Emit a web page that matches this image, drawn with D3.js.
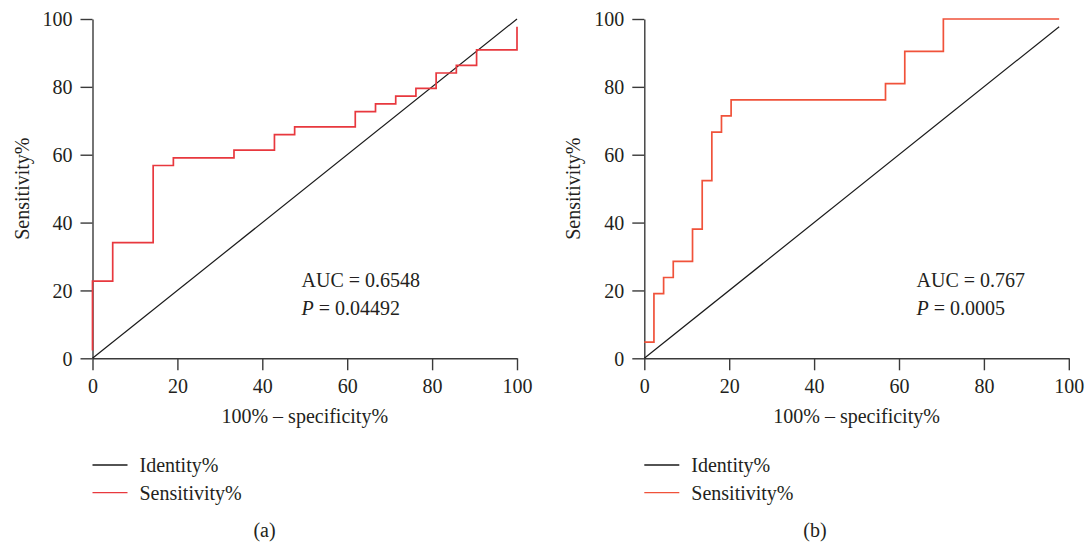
<!DOCTYPE html>
<html>
<head>
<meta charset="utf-8">
<script src="https://cdn.jsdelivr.net/npm/d3@7"></script>
<style>
    body { margin: 0; background: #fff; }
    svg { display: block; font-family: "Liberation Serif", "DejaVu Serif", serif; }
</style>
</head>
<body>
<script>
// ROC curves, two panels
const ticks = [0, 20, 40, 60, 80, 100];

// panel (a)
const aFpr = [0, 0, 4.76, 14.29, 19.05, 33.33, 42.86, 47.62, 61.9, 66.67, 71.43, 76.19, 80.95, 85.71, 90.48, 100];
const aTpr = [2.27, 22.73, 34.09, 56.82, 59.09, 61.36, 65.91, 68.18, 72.73, 75, 77.27, 79.55, 84.09, 86.36, 90.91, 97.73];
const aIdentity = [0, 100];
const aAuc = "0.6548";
const aP = "0.04492";

// panel (b)
const bFpr = [0, 2.27, 4.55, 6.82, 11.36, 13.64, 15.91, 18.18, 20.45, 56.82, 61.36, 70.45, 97.73];
const bTpr = [4.76, 19.05, 23.81, 28.57, 38.1, 52.38, 66.67, 71.43, 76.19, 80.95, 90.48, 100, 100];
const bIdentity = [0, 97.73];
const bAuc = "0.767";
const bP = "0.0005";

const width = 1085, height = 545;

const svg = d3.select("body").append("svg")
    .attr("width", width)
    .attr("height", height);

let panel = function (opt) {
    const x = d3.scaleLinear().domain([0, 100]).range([opt.left, opt.left + 424.5]);
    const y = d3.scaleLinear().domain([0, 100]).range([358.3, 19]);
    const g = svg.append("g");

    // axes
    const xAxis = g.append("g")
        .attr("transform", `translate(0,${y(0)})`)
        .call(d3.axisBottom(x).tickValues(ticks).tickSize(12).tickSizeOuter(0).tickPadding(9));
    const yAxis = g.append("g")
        .attr("transform", `translate(${x(0)},0)`)
        .call(d3.axisLeft(y).tickValues(ticks).tickSize(12).tickSizeOuter(0).tickPadding(8));

    [xAxis, yAxis].forEach(a => {
        a.selectAll("path, line").attr("stroke", "#3a3a3a").attr("stroke-width", 1.4);
        a.selectAll("text").attr("fill", "#231f20").style("font-size", "20px")
            .style("font-family", "Liberation Serif, serif");
    });
    yAxis.selectAll("text").attr("dy", "0.34em");

    // identity line
    g.append("line")
        .attr("x1", x(opt.identity[0])).attr("y1", y(opt.identity[0]))
        .attr("x2", x(opt.identity[1])).attr("y2", y(opt.identity[1]))
        .attr("stroke", "#1a1a1a")
        .attr("stroke-width", 1.2);

    // roc steps
    const pts = opt.fpr.map((v, i) => [v, opt.tpr[i]]);
    const line = d3.line()
        .x(d => x(d[0]))
        .y(d => y(d[1]))
        .curve(d3.curveStepAfter);
    g.append("path")
        .datum(pts)
        .attr("d", line)
        .attr("fill", "none")
        .attr("stroke", opt.red)
        .attr("stroke-width", 1.7);

    // labels
    g.append("text")
        .attr("x", (x(0) + x(100)) / 2)
        .attr("y", 423)
        .attr("text-anchor", "middle")
        .style("font-size", "20px")
        .attr("fill", "#231f20")
        .text("100% \u2013 specificity%");

    g.append("text")
        .attr("transform", `translate(${x(0) - 64},${(y(0) + y(100)) / 2}) rotate(-90)`)
        .attr("text-anchor", "middle")
        .style("font-size", "20px")
        .attr("fill", "#231f20")
        .text("Sensitivity%");

    const ann = g.append("text")
        .style("font-size", "20px")
        .attr("fill", "#231f20");
    ann.append("tspan").attr("x", opt.annX).attr("y", 287).text("AUC = " + opt.auc);
    const p = g.append("text")
        .attr("x", opt.annX).attr("y", 315)
        .style("font-size", "20px")
        .attr("fill", "#231f20");
    p.append("tspan").style("font-style", "italic").text("P");
    p.append("tspan").text(" = " + opt.p);

    // legend
    const legend = [["Identity%", "#1a1a1a"], ["Sensitivity%", opt.red]];
    legend.forEach((l, i) => {
        const ly = 465 + i * 27.7;
        g.append("line")
            .attr("x1", x(0)).attr("x2", x(0) + 35)
            .attr("y1", ly).attr("y2", ly)
            .attr("stroke", l[1])
            .attr("stroke-width", 1.3);
        g.append("text")
            .attr("x", x(0) + 47)
            .attr("y", ly + 6.8)
            .style("font-size", "20px")
            .attr("fill", "#231f20")
            .text(l[0]);
    });

    g.append("text")
        .attr("x", opt.capX)
        .attr("y", 537)
        .attr("text-anchor", "middle")
        .style("font-size", "20px")
        .attr("fill", "#231f20")
        .text(opt.caption);
};

panel({ left: 92.5, fpr: aFpr, tpr: aTpr, identity: aIdentity, auc: aAuc, p: aP,
    red: "#e8383e", annX: 301.5, capX: 264.5, caption: "(a)" });
panel({ left: 644.3, fpr: bFpr, tpr: bTpr, identity: bIdentity, auc: bAuc, p: bP,
    red: "#f0523a", annX: 916.5, capX: 815, caption: "(b)" });
</script>
</body>
</html>
